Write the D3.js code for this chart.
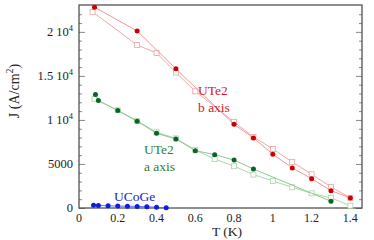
<!DOCTYPE html>
<html>
<head>
<meta charset="utf-8">
<script src="https://cdn.jsdelivr.net/npm/d3@7"></script>
<style>
  body { margin: 0; background: #fff; }
  text { font-family: "Liberation Serif", "DejaVu Serif", serif; }
</style>
</head>
<body>
<div id="chart"></div>
<script>
var w = 374;
var h = 240;

// UTe2 b axis
var bT      = [0.08, 0.3, 0.5, 0.8, 0.9, 1.0, 1.1, 1.2, 1.3, 1.4];
var bJ      = [22800, 20100, 15800, 9500, 7950, 6100, 4550, 3330, 1970, 1140];
var bSqT    = [0.07, 0.3, 0.4, 0.5, 0.6, 0.8, 0.9, 1.0, 1.1, 1.2, 1.3, 1.4];
var bSqJ    = [22270, 18500, 17600, 15380, 13250, 9770, 8070, 6700, 5230, 3830, 2390, 1150];

// UTe2 a axis
var aT      = [0.085, 0.1, 0.2, 0.3, 0.4, 0.5, 0.6, 0.7, 0.8, 0.9, 1.3];
var aJ      = [12880, 12200, 11060, 9850, 8480, 7840, 6510, 6060, 5450, 4430, 760];
var aSqT    = [0.08, 0.2, 0.3, 0.4, 0.5, 0.6, 0.7, 0.8, 0.9, 1.0, 1.1, 1.2, 1.3, 1.4];
var aSqJ    = [12400, 11100, 9900, 8600, 7900, 6600, 5550, 4750, 3790, 3070, 2350, 1670, 1140, 260];

// UCoGe
var cT      = [0.075, 0.1, 0.15, 0.2, 0.25, 0.3, 0.35, 0.4, 0.45];
var cJ      = [300, 290, 250, 220, 200, 180, 140, 90, 20];

var xTicks  = [0, 0.2, 0.4, 0.6, 0.8, 1, 1.2, 1.4];
var yTicks  = [0, 5000, 10000, 15000, 20000];
var yLabels = [["0", ""], ["5000", ""], ["1 10", "4"], ["1.5 10", "4"], ["2 10", "4"]];

var pL = 79, pR = 362, pT = 5, pB = 208;

var svg = d3.select("#chart").append("svg")
            .attr("width", w)
            .attr("height", h);

var x = d3.scaleLinear().domain([0, 1.46]).range([pL, pR]);
var y = d3.scaleLinear().domain([0, 23050]).range([pB, pT]);

var minor = d3.range(1000, 23000, 1000).filter(function(v) { return v % 5000 != 0; });

function ticks(g) { g.select(".domain").remove(); g.selectAll("line").attr("stroke", "#888"); }

// left axis (ticks inside)
svg.append("g")
   .attr("transform", "translate(" + pL + ",0)")
   .call(d3.axisRight(y).tickValues(minor).tickSize(3).tickFormat(""))
   .call(ticks);
svg.append("g")
   .attr("transform", "translate(" + pL + ",0)")
   .call(d3.axisRight(y).tickValues(yTicks).tickSize(6).tickFormat(""))
   .call(ticks);

// right axis (ticks inside)
svg.append("g")
   .attr("transform", "translate(" + pR + ",0)")
   .call(d3.axisLeft(y).tickValues(minor).tickSize(3).tickFormat(""))
   .call(ticks);
svg.append("g")
   .attr("transform", "translate(" + pR + ",0)")
   .call(d3.axisLeft(y).tickValues(yTicks).tickSize(6).tickFormat(""))
   .call(ticks);

// frame
svg.append("rect")
   .attr("x", pL).attr("y", pT)
   .attr("width", pR - pL).attr("height", pB - pT)
   .attr("fill", "none").attr("stroke", "#444").attr("stroke-width", 1.2);

// y tick labels
var ylab = svg.selectAll("text.ylab")
              .data(yTicks)
              .enter()
              .append("text")
              .attr("class", "ylab")
              .attr("x", pL - 6)
              .attr("y", function(d) { return y(d) + 4; })
              .attr("text-anchor", "end")
              .style("font-size", "12.5px")
              .attr("fill", "#222");
ylab.append("tspan").text(function(d, i) { return yLabels[i][0]; });
ylab.append("tspan")
    .attr("dy", -5)
    .style("font-size", "8.5px")
    .text(function(d, i) { return yLabels[i][1]; });

// x tick labels
svg.selectAll("text.xlab")
   .data(xTicks)
   .enter()
   .append("text")
   .attr("class", "xlab")
   .attr("x", function(d) { return x(d); })
   .attr("y", 222)
   .attr("text-anchor", "middle")
   .style("font-size", "12px")
   .attr("fill", "#222")
   .text(function(d) { return d; });

// axis titles
svg.append("text")
   .attr("x", 227).attr("y", 236)
   .attr("text-anchor", "middle")
   .style("font-size", "13.5px")
   .attr("fill", "#222")
   .text("T (K)");

var yt = svg.append("text")
   .attr("transform", "translate(19,91) rotate(-90)")
   .attr("text-anchor", "middle")
   .style("font-size", "14px")
   .attr("fill", "#222");
yt.append("tspan").text("J (A/cm");
yt.append("tspan").attr("dy", -6).style("font-size", "10px").text("2");
yt.append("tspan").attr("dy", 6).text(")");

function series(tt, jj, lineColor, markColor, square) {
  var pts = tt.map(function(t, i) { return [t, jj[i]]; });
  var line = d3.line().x(function(d) { return x(d[0]); }).y(function(d) { return y(d[1]); });
  svg.append("path")
     .datum(pts)
     .attr("d", line)
     .attr("fill", "none")
     .attr("stroke", lineColor)
     .attr("stroke-width", 1);
  if (square) {
    svg.selectAll(null)
       .data(pts)
       .enter()
       .append("rect")
       .attr("x", function(d) { return x(d[0]) - 2.5; })
       .attr("y", function(d) { return y(d[1]) - 2.5; })
       .attr("width", 5)
       .attr("height", 5)
       .attr("fill", "#fff")
       .attr("stroke", markColor)
       .attr("stroke-width", 0.8);
  } else {
    svg.selectAll(null)
       .data(pts)
       .enter()
       .append("circle")
       .attr("cx", function(d) { return x(d[0]); })
       .attr("cy", function(d) { return y(d[1]); })
       .attr("r", 2.5)
       .attr("fill", markColor);
  }
}

series(bSqT, bSqJ, "#f4a8a8", "#f2a0a0", true);
series(bT, bJ, "#f09898", "#cc0000", false);
series(aSqT, aSqJ, "#acd6ac", "#a8d4a8", true);
series(aT, aJ, "#90c690", "#0a6428", false);
series(cT, cJ, "#6a6aff", "#0a1ee0", false);

// labels
function label(tx, ty, lines, color) {
  svg.selectAll(null)
     .data(lines)
     .enter()
     .append("text")
     .attr("x", tx)
     .attr("y", function(d, i) { return ty + i * 17; })
     .style("font-size", "13.5px")
     .attr("fill", color)
     .text(function(d) { return d; });
}
label(198, 95, ["UTe2", "b axis"], "#d42020");
label(144, 154, ["UTe2", "a axis"], "#2e7d3c");
label(114, 201, ["UCoGe"], "#1a1ad8");
</script>
</body>
</html>
